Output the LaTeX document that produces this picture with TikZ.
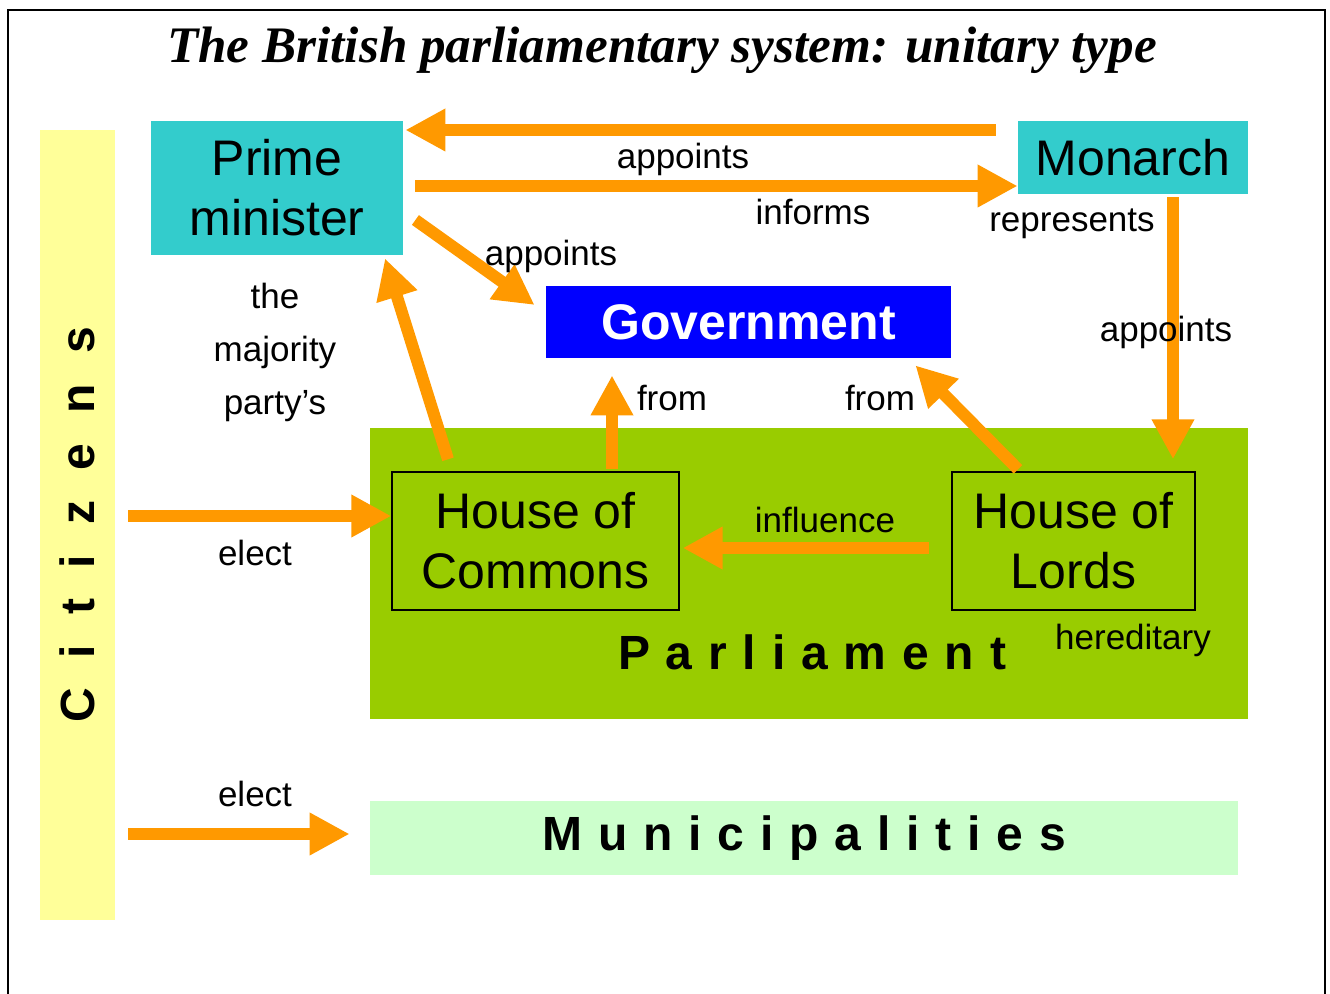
\documentclass[tikz,border=0pt]{standalone}
\usepackage{fontspec}
\setmainfont{Liberation Sans}
\newfontfamily\titlefont{Liberation Serif}
\newfontfamily\spacedfont[LetterSpace=33]{Liberation Sans}
\newfontfamily\widerfont[LetterSpace=63]{Liberation Sans}
\usetikzlibrary{arrows.meta,calc,positioning}
\definecolor{linkorange}{HTML}{FF9900}
\definecolor{leadcyan}{HTML}{33CCCC}
\definecolor{govblue}{HTML}{0000FF}
\definecolor{parlgreen}{HTML}{99CC00}
\definecolor{munigreen}{HTML}{CCFFCC}
\definecolor{citzyellow}{HTML}{FFFF99}
\tikzset{
    every node/.style={inner sep=0pt,font=\fontsize{17.5}{26.5}\selectfont},
    panel/.style={rectangle,align=center,font=\fontsize{25}{30}\selectfont},
    leader/.style={panel,fill=leadcyan},
    house/.style={panel,draw=black,line width=0.7pt,minimum width=#1,minimum height=69pt},
    spaced/.style={font=\spacedfont\bfseries\fontsize{24}{24}\selectfont},
    tag/.style={align=center},
    link/.style={draw=linkorange,line width=6pt,-{Triangle[length=20pt,width=20pt]}}
}

\begin{document}
\begin{tikzpicture}[x=0.5pt,y=-0.5pt]
\useasboundingbox (0,0) rectangle (1330,994);
\draw[line width=1.2pt] (8,994) -- (8,10) -- (1325,10) -- (1325,994);

\node (title) at (662,50) {\titlefont\bfseries\itshape\fontsize{25.6}{30}\selectfont The British parliamentary system: unitary type};

\node[fill=citzyellow,minimum width=37.5pt,minimum height=395pt] (citz) at (77.5,525)
    {\rotatebox{90}{\widerfont\bfseries\fontsize{24}{24}\selectfont Citizens}};
\node[leader,minimum width=126pt,minimum height=67pt] (pm) at (277,188) {Prime\\minister};
\node[leader,minimum width=115pt,minimum height=36.5pt] (mon) at (1133,157.5) {Monarch};
\node[panel,fill=govblue,text=white,font=\bfseries\fontsize{25}{30}\selectfont,
    minimum width=202.5pt,minimum height=36pt] (gov) at (748.5,322) {Government};
\node[fill=parlgreen,minimum width=439pt,minimum height=145.5pt] (parl) at (809,573.5) {};
\node[house=143.5pt] (hoc) at (535.5,541) {House of\\Commons};
\node[house=121.5pt] (hol) at (1073.5,541) {House of\\Lords};
\node[spaced] (parlname) at (812,652) {Parliament};
\node[spaced,fill=munigreen,minimum width=434pt,minimum height=37pt] (muni) at (804,838) {Municipalities};

\draw[link] ($(mon.west)+(-22,-27.5)$) -- ($(pm.east)+(2,-58)$);
\draw[link] ($(pm.east)+(12,-2)$) -- ($(mon.west)+(0,28.5)$);
\draw[link] ($(pm.east)+(12,32)$) -- ($(gov.west)+(-11,-17)$);
\draw[link] ($(hoc.north)+(-87.5,-12)$) -- ($(pm.south)+(108,3)$);
\draw[link] ($(hoc.north)+(76.5,-2)$) -- ($(gov.south)+(-136.5,17)$);
\draw[link] ($(hol.north)+(-55.5,-2)$) -- ($(gov.south east)+(-36,7)$);
\draw[link] ($(mon.south)+(40,3)$) -- ($(hol.north)+(99.5,-12)$);
\draw[link] ($(hol.west)+(-22,7)$) -- ($(hoc.east)+(3,7)$);
\draw[link] ($(citz.east)+(13,-9)$) -- ($(hoc.west)+(0,-25)$);
\draw[link] ($(citz.east)+(13,309)$) -- ($(muni.west)+(-20,-4)$);

\node[tag] (appmon) at (683,159) {appoints};
\node[tag] (informs) at (813,212) {informs};
\node[tag] (appgov) at (551,256) {appoints};
\node[tag] (repr) at (1072,224) {represents};
\node[tag] (applords) at (1166,332) {appoints};
\node[tag] (majority) at (275,352) {the\\majority\\party's};
\node[tag] (fromhoc) at (672,398) {from};
\node[tag] (fromhol) at (880,398) {from};
\node[tag] (infl) at (825,520) {influence};
\node[tag] (hered) at (1133,640) {hereditary};
\node[tag] (electhoc) at (255,553) {elect};
\node[tag] (electmuni) at (255,794) {elect};
\end{tikzpicture}
\end{document}
